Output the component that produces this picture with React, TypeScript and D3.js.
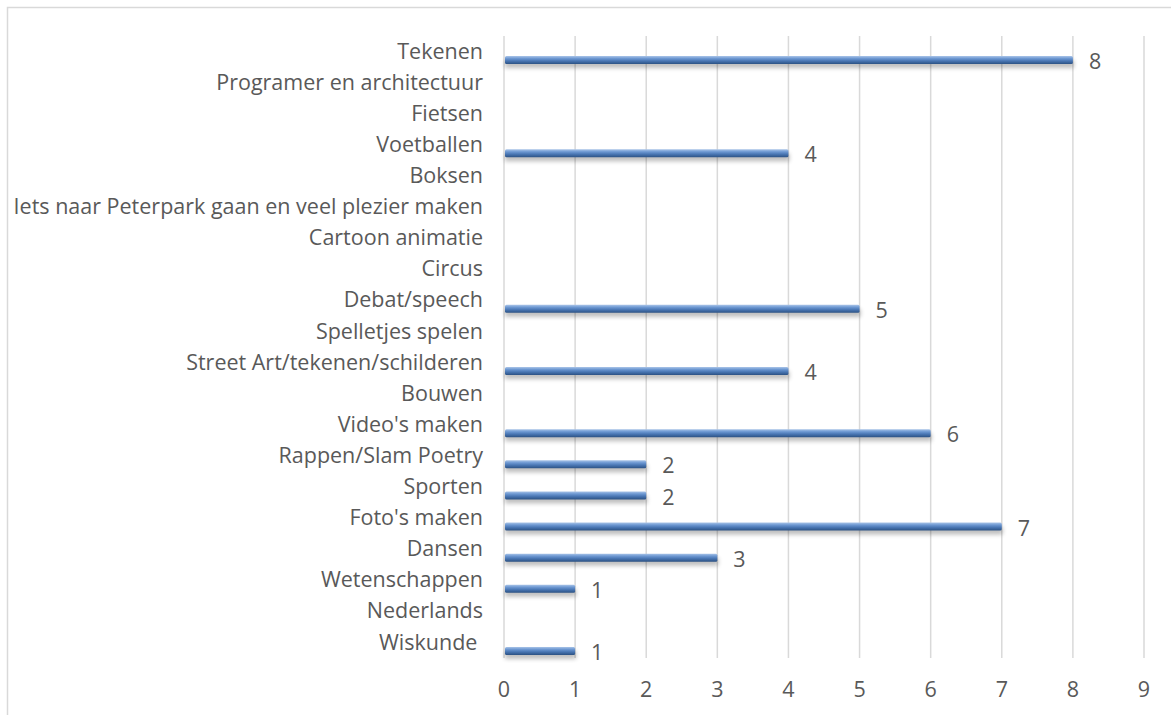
import React from 'react';
import { scaleLinear, scaleBand } from 'd3';

// categories listed top to bottom, as in the picture
const categories = [
  'Tekenen',
  'Programer en architectuur',
  'Fietsen',
  'Voetballen',
  'Boksen',
  'Iets naar Peterpark gaan en veel plezier maken',
  'Cartoon animatie',
  'Circus',
  'Debat/speech',
  'Spelletjes spelen',
  'Street Art/tekenen/schilderen',
  'Bouwen',
  "Video's maken",
  'Rappen/Slam Poetry',
  'Sporten',
  "Foto's maken",
  'Dansen',
  'Wetenschappen',
  'Nederlands',
  'Wiskunde ',
];
const values: (number | null)[] = [8, null, null, 4, null, null, null, null, 5, null, 4, null, 6, 2, 2, 7, 3, 1, null, 1];
const ticks = [0, 1, 2, 3, 4, 5, 6, 7, 8, 9];

const W = 1171;
const H = 715;
const FONT = '"Open Sans", Lato, sans-serif';
const FS = 21.5;
const TXT = '#595959';

const App: React.FC = () => {
  const x = scaleLinear().domain([0, 9]).range([504, 1144]);
  const y = scaleBand<string>().domain(categories).range([36, 658]);
  const bw = y.bandwidth();
  const barH = 8;
  const barShift = 8.5; // 3d perspective pushes bars below label line

  return (
    <svg width={W} height={H} style={{ position: 'absolute', left: 0, top: 0, background: '#fff' }}>
      <defs>
        <linearGradient id="barGrad" x1="0" y1="0" x2="0" y2="1">
          <stop offset="0" stopColor="#a9c4e8" />
          <stop offset="0.3" stopColor="#6d98d2" />
          <stop offset="0.6" stopColor="#4a77b4" />
          <stop offset="1" stopColor="#2b5183" />
        </linearGradient>
        <filter id="shadow" x="-5%" y="-50%" width="110%" height="250%">
          <feGaussianBlur stdDeviation="2" />
        </filter>
      </defs>
      <rect x={7.5} y={7.5} width={W + 10} height={H + 10} fill="none" stroke="#d9d9d9" strokeWidth={1.5} />

      {ticks.map(t => (
        <line key={t} x1={x(t)} x2={x(t)} y1={36} y2={658} stroke="#d9d9d9" strokeWidth={1.5} />
      ))}

      {categories.map((c, i) => {
        const v = values[i];
        const cy = (y(c) as number) + bw / 2;
        return (
          <g key={c}>
            <text
              x={483}
              y={cy}
              dy="0.33em"
              textAnchor="end"
              fontFamily={FONT}
              fontSize={FS}
              fill={TXT}
              style={{ whiteSpace: 'pre' }}
            >
              {c}
            </text>
            {v != null && (
              <>
                <rect
                  x={x(0) + 1}
                  y={cy + barShift - barH / 2 + 4}
                  width={x(v) - x(0)}
                  height={barH}
                  fill="#000"
                  opacity={0.25}
                  filter="url(#shadow)"
                />
                <rect
                  x={x(0) + 1}
                  y={cy + barShift - barH / 2}
                  width={x(v) - x(0) - 1}
                  height={barH}
                  rx={1.5}
                  fill="url(#barGrad)"
                />
                <text
                  x={x(v) + 16}
                  y={cy + barShift + 2}
                  dy="0.33em"
                  fontFamily={FONT}
                  fontSize={FS}
                  fill={TXT}
                >
                  {v}
                </text>
              </>
            )}
          </g>
        );
      })}

      {ticks.map(t => (
        <text key={t} x={x(t)} y={690} dy="0.33em" textAnchor="middle" fontFamily={FONT} fontSize={FS} fill={TXT}>
          {t}
        </text>
      ))}
    </svg>
  );
};

export default App;
